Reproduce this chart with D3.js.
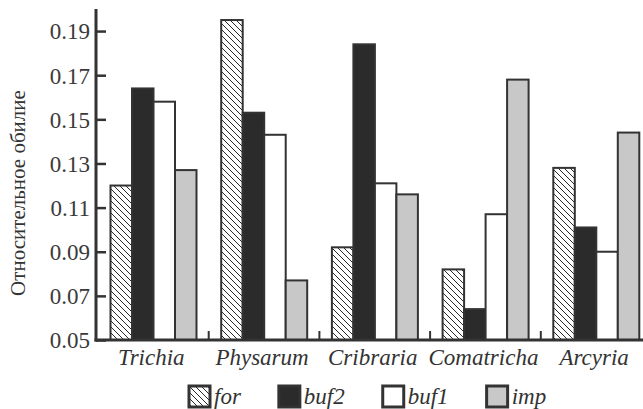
<!DOCTYPE html>
<html>
<head>
<meta charset="utf-8">
<script src="https://cdn.jsdelivr.net/npm/d3@7"></script>
</head>
<body style="margin:0; background:#fff">
<div id="chart"></div>
<script>
// genera and series
var genera = ["Trichia", "Physarum", "Cribraria", "Comatricha", "Arcyria"];
var series = ["for", "buf2", "buf1", "imp"];

// relative abundance per series, in genera order
var forValues  = [0.120, 0.195, 0.092, 0.082, 0.128];
var buf2Values = [0.164, 0.153, 0.184, 0.064, 0.101];
var buf1Values = [0.158, 0.143, 0.121, 0.107, 0.090];
var impValues  = [0.127, 0.077, 0.116, 0.168, 0.144];

var yTicks = [0.05, 0.07, 0.09, 0.11, 0.13, 0.15, 0.17, 0.19];

var values = { "for": forValues, "buf2": buf2Values, "buf1": buf1Values, "imp": impValues };

var W = 643, H = 409;
var axisX = 96, axisY = 340, axisTop = 9;
var serif = "'Liberation Serif', 'Times New Roman', serif";

var svg = d3.select("#chart")
    .append("svg")
    .attr("width", W)
    .attr("height", H);

// hatch pattern for "for"
var defs = svg.append("defs");
var pat = defs.append("pattern")
    .attr("id", "hatch")
    .attr("patternUnits", "userSpaceOnUse")
    .attr("width", 6)
    .attr("height", 6);
pat.append("rect").attr("width", 6).attr("height", 6).attr("fill", "#fff");
pat.append("path")
    .attr("d", "M-1,-1 L7,7 M-4,2 L2,8 M4,-2 L8,2")
    .attr("stroke", "#111")
    .attr("stroke-width", 0.9);

var fills = { "for": "url(#hatch)", "buf2": "#2b2b2b", "buf1": "#ffffff", "imp": "#c8c8c8" };

// scales
var x = d3.scaleBand()
    .domain(genera)
    .range([98, 651.5]);

var xSub = d3.scaleBand()
    .domain(series)
    .range([12.5, 98.5]);

var y = d3.scaleLinear()
    .domain([0.05, 0.2])
    .range([axisY, axisTop]);

// bars
var rows = [];
genera.forEach(function(g, i) {
    series.forEach(function(s) {
        rows.push({ genus: g, series: s, value: values[s][i] });
    });
});

svg.append("g")
    .selectAll("rect")
    .data(rows)
    .enter()
    .append("rect")
    .attr("x", d => x(d.genus) + xSub(d.series))
    .attr("y", d => y(d.value))
    .attr("width", xSub.bandwidth())
    .attr("height", d => axisY - y(d.value))
    .attr("fill", d => fills[d.series])
    .attr("stroke", "#333")
    .attr("stroke-width", 2);

// y axis, ticks pointing inward
var yAxis = d3.axisLeft(y)
    .tickValues(yTicks)
    .tickSize(-10)
    .tickPadding(6)
    .tickFormat(d3.format(".2f"));

var yg = svg.append("g")
    .attr("transform", "translate(" + axisX + ",0)")
    .call(yAxis);
yg.select(".domain").remove();
yg.selectAll(".tick line").attr("stroke", "#333").attr("stroke-width", 2.5);
yg.selectAll(".tick text")
    .attr("fill", "#3a3a3a")
    .attr("dy", "0.34em")
    .attr("style", "font-family:" + serif + "; font-size:23px");

svg.append("line")
    .attr("x1", axisX).attr("x2", axisX)
    .attr("y1", axisTop).attr("y2", axisY + 1.5)
    .attr("stroke", "#333")
    .attr("stroke-width", 3);

// x axis with small upward ticks between genera
var xg = svg.append("g");
xg.append("line")
    .attr("x1", axisX - 1.5).attr("x2", W)
    .attr("y1", axisY).attr("y2", axisY)
    .attr("stroke", "#333")
    .attr("stroke-width", 3);

xg.selectAll(".sep")
    .data(genera.slice(1))
    .enter()
    .append("line")
    .attr("x1", d => x(d)).attr("x2", d => x(d))
    .attr("y1", axisY).attr("y2", axisY - 9)
    .attr("stroke", "#333")
    .attr("stroke-width", 2);

xg.selectAll(".glabel")
    .data(genera)
    .enter()
    .append("text")
    .attr("x", d => x(d) + x.bandwidth() / 2 - 2)
    .attr("y", 365)
    .attr("text-anchor", "middle")
    .attr("fill", "#333")
    .attr("style", "font-family:" + serif + "; font-size:23px; font-style:italic")
    .text(d => d);

// y label
svg.append("text")
    .attr("transform", "translate(25," + 193 + ") rotate(-90)")
    .attr("text-anchor", "middle")
    .attr("fill", "#333")
    .attr("style", "font-family:" + serif + "; font-size:21px")
    .text("Относительное обилие");

// legend
var legend = svg.append("g");
var lx = 189;
series.forEach(function(s) {
    var item = legend.append("g").attr("transform", "translate(" + lx + ",386)");
    item.append("rect")
        .attr("width", 21)
        .attr("height", 21)
        .attr("fill", fills[s])
        .attr("stroke", "#333")
        .attr("stroke-width", 3);
    var t = item.append("text")
        .attr("x", 25)
        .attr("y", 18)
        .attr("fill", "#333")
        .attr("style", "font-family:" + serif + "; font-size:23px; font-style:italic")
        .text(s);
    lx += 25 + t.node().getComputedTextLength() + 38;
});
</script>
</body>
</html>
